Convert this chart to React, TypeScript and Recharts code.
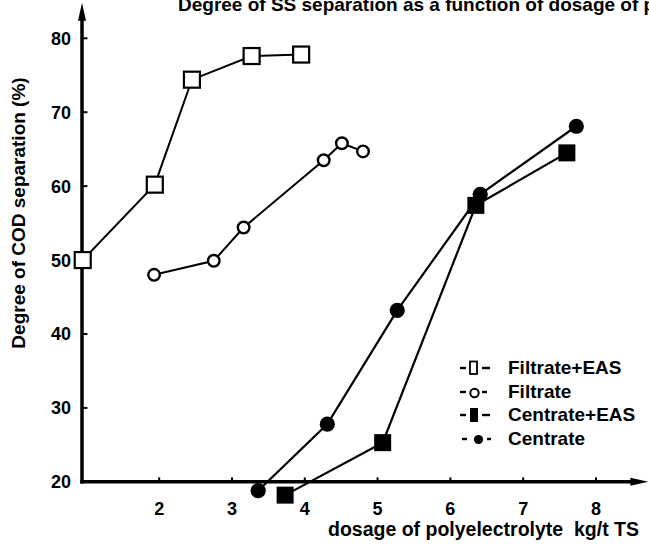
import { LineChart, Line, XAxis, YAxis, ReferenceLine, Legend } from 'recharts'

const FONT = '"Liberation Sans", Arial, Helvetica, sans-serif'

// axis ticks
const xTicks = [2, 3, 4, 5, 6, 7, 8]
const yTicks = [20, 30, 40, 50, 60, 70, 80]
const yMarks = [30, 40, 50, 60, 70, 80]

// series names, in the order the legend lists them
const seriesNames = ['Filtrate+EAS', 'Filtrate', 'Centrate+EAS', 'Centrate']

const filtrateEasX = [0.95, 1.94, 2.45, 3.27, 3.95]
const filtrateEasY = [50.0, 60.2, 74.4, 77.6, 77.8]

const filtrateX = [1.93, 2.75, 3.16, 4.26, 4.51, 4.8]
const filtrateY = [48.0, 49.9, 54.4, 63.5, 65.8, 64.7]

const centrateEasX = [3.73, 5.07, 6.35, 7.6]
const centrateEasY = [18.2, 25.3, 57.4, 64.5]

const centrateX = [3.36, 4.31, 5.27, 6.41, 7.73]
const centrateY = [18.8, 27.8, 43.2, 58.9, 68.1]

const toPoints = (xs: number[], ys: number[]) => xs.map((x, i) => ({ x, y: ys[i] }))

const filtrateEas = toPoints(filtrateEasX, filtrateEasY)
const filtrate = toPoints(filtrateX, filtrateY)
const centrateEas = toPoints(centrateEasX, centrateEasY)
const centrate = toPoints(centrateX, centrateY)

const X_MIN = 0.94
const X_MAX = 8.72
const Y_MIN = 17
const Y_MAX = 85

function OpenSquare({ cx, cy }: any) {
  return <rect x={cx - 8} y={cy - 8} width={16} height={16} fill="#fff" stroke="#000" strokeWidth={2.2} />
}
function OpenCircle({ cx, cy }: any) {
  return <circle cx={cx} cy={cy} r={5.8} fill="#fff" stroke="#000" strokeWidth={2.4} />
}
function FilledSquare({ cx, cy }: any) {
  return <rect x={cx - 8.5} y={cy - 8.5} width={17} height={17} fill="#000" />
}
function FilledCircle({ cx, cy }: any) {
  return <circle cx={cx} cy={cy} r={7.6} fill="#000" />
}

function XTick({ x, y, payload }: any) {
  return (
    <text x={x} y={y + 11} textAnchor="middle" fontFamily={FONT} fontWeight="bold" fontSize={18} fill="#000">
      {payload.value}
    </text>
  )
}
function YTick({ x, y, payload }: any) {
  return (
    <text x={x - 11} y={y + 6.5} textAnchor="end" fontFamily={FONT} fontWeight="bold" fontSize={18} fill="#000">
      {payload.value}
    </text>
  )
}

// axis line with an arrow head at its second point
function ArrowAxis(props: any) {
  const { x1, y1, x2, y2 } = props
  const dx = x2 - x1
  const dy = y2 - y1
  const len = Math.hypot(dx, dy) || 1
  const ux = dx / len
  const uy = dy / len
  const hl = 18
  const hw = 4
  const bx = x2 - ux * hl
  const by = y2 - uy * hl
  return (
    <g>
      <line x1={x1} y1={y1} x2={bx} y2={by} stroke="#000" strokeWidth={3.5} strokeLinecap="square" />
      <polygon
        points={`${x2},${y2} ${bx - uy * hw},${by + ux * hw} ${bx + uy * hw},${by - ux * hw}`}
        fill="#000"
      />
    </g>
  )
}

function LegendSymbol({ kind }: { kind: string }) {
  const dash = (a: number, b: number) => <line x1={a} y1={10} x2={b} y2={10} stroke="#000" strokeWidth={2.4} />
  return (
    <svg width={34} height={20} style={{ display: 'block' }}>
      {kind === 'Filtrate+EAS' && (
        <>
          {dash(0, 6)}
          <rect x={10} y={3.5} width={7} height={12.5} fill="#fff" stroke="#000" strokeWidth={1.8} />
          {dash(22, 30)}
        </>
      )}
      {kind === 'Filtrate' && (
        <>
          {dash(0, 6)}
          <circle cx={14.5} cy={11} r={4.2} fill="#fff" stroke="#000" strokeWidth={2} />
          {dash(22, 27)}
        </>
      )}
      {kind === 'Centrate+EAS' && (
        <>
          {dash(0, 6)}
          <rect x={10} y={3} width={8} height={14} fill="#000" />
          {dash(22, 30)}
        </>
      )}
      {kind === 'Centrate' && (
        <>
          {dash(2, 7)}
          <circle cx={18.5} cy={10.5} r={4.6} fill="#000" />
          {dash(27, 31)}
        </>
      )}
    </svg>
  )
}

function LegendBox({ payload }: any) {
  const items = [...(payload || [])].sort(
    (a: any, b: any) => seriesNames.indexOf(a.value) - seriesNames.indexOf(b.value)
  )
  return (
    <div>
      {items.map((entry: any) => (
        <div key={entry.value} style={{ display: 'flex', alignItems: 'center', height: 23.7 }}>
          <LegendSymbol kind={entry.value} />
          <span style={{ marginLeft: 14, fontFamily: FONT, fontWeight: 'bold', fontSize: 19, color: '#000' }}>
            {entry.value}
          </span>
        </div>
      ))}
    </div>
  )
}

export default function App() {
  return (
    <div style={{ position: 'relative', width: 649, height: 553, background: '#fff' }}>
      <style>{'body{margin:0;background:#fff}'}</style>
      <LineChart width={649} height={553} margin={{ top: 1.33, right: 0.6, bottom: 19, left: 0 }}>
        <XAxis
          type="number"
          dataKey="x"
          domain={[X_MIN, X_MAX]}
          ticks={xTicks}
          axisLine={false}
          tickLine={false}
          tickSize={0}
          tickMargin={0}
          tick={XTick}
          height={30}
        />
        <YAxis
          type="number"
          domain={[Y_MIN, Y_MAX]}
          ticks={yTicks}
          axisLine={false}
          tickLine={false}
          tickSize={0}
          tickMargin={0}
          tick={YTick}
          width={82}
        />
        <ReferenceLine
          segment={[{ x: X_MIN, y: 20 }, { x: X_MAX, y: 20 }]}
          ifOverflow="visible"
          shape={ArrowAxis}
        />
        <ReferenceLine
          segment={[{ x: X_MIN, y: 20 }, { x: X_MIN, y: 84.8 }]}
          ifOverflow="visible"
          shape={ArrowAxis}
        />
        {xTicks.map((t) => (
          <ReferenceLine
            key={'xt' + t}
            segment={[{ x: t, y: 20 }, { x: t, y: 20.6 }]}
            ifOverflow="visible"
            stroke="#000"
            strokeWidth={2}
          />
        ))}
        {yMarks.map((t) => (
          <ReferenceLine
            key={'yt' + t}
            segment={[{ x: X_MIN, y: t }, { x: X_MIN + 0.075, y: t }]}
            ifOverflow="visible"
            stroke="#000"
            strokeWidth={2}
          />
        ))}
        <Line
          data={filtrateEas}
          dataKey="y"
          name={seriesNames[0]}
          stroke="#000"
          strokeWidth={2}
          dot={OpenSquare}
          activeDot={false}
          isAnimationActive={false}
        />
        <Line
          data={filtrate}
          dataKey="y"
          name={seriesNames[1]}
          stroke="#000"
          strokeWidth={2}
          dot={OpenCircle}
          activeDot={false}
          isAnimationActive={false}
        />
        <Line
          data={centrateEas}
          dataKey="y"
          name={seriesNames[2]}
          stroke="#000"
          strokeWidth={2.2}
          dot={FilledSquare}
          activeDot={false}
          isAnimationActive={false}
        />
        <Line
          data={centrate}
          dataKey="y"
          name={seriesNames[3]}
          stroke="#000"
          strokeWidth={2.2}
          dot={FilledCircle}
          activeDot={false}
          isAnimationActive={false}
        />
        <Legend
          layout="vertical"
          align="center"
          verticalAlign="middle"
          content={LegendBox}
          wrapperStyle={{ left: 460, top: 356, width: 'auto', height: 'auto' }}
        />
      </LineChart>
      <svg
        width={649}
        height={553}
        style={{ position: 'absolute', left: 0, top: 0, pointerEvents: 'none' }}
      >
        <text x={178} y={10.5} fontFamily={FONT} fontWeight="bold" fontSize={19} fill="#000">
          Degree of SS separation as a function of dosage of polyelectrolyte
        </text>
        <text
          x={25}
          y={213}
          transform="rotate(-90, 25, 213)"
          textAnchor="middle"
          fontFamily={FONT}
          fontWeight="bold"
          fontSize={19}
          fill="#000"
        >
          Degree of COD separation (%)
        </text>
        <text x={328} y={536} fontFamily={FONT} fontWeight="bold" fontSize={19.5} fill="#000" xmlSpace="preserve">
          dosage of polyelectrolyte  kg/t TS
        </text>
      </svg>
    </div>
  )
}
